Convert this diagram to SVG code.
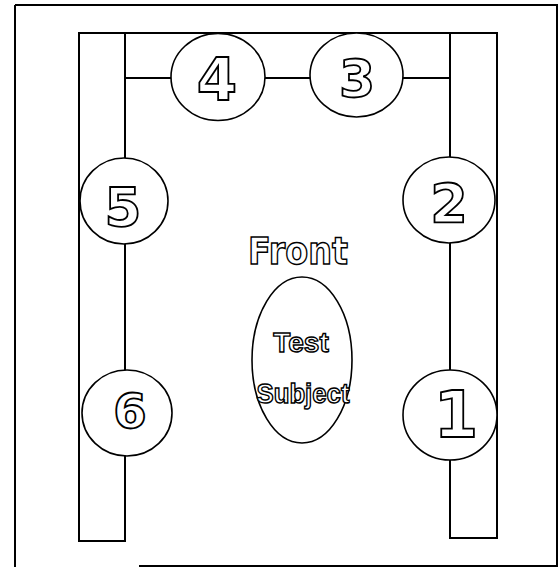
<svg xmlns="http://www.w3.org/2000/svg" width="558" height="567" viewBox="0 0 558 567">
<style>
.ln{stroke:#000;stroke-width:2;fill:none}
.nd{fill:#fff;stroke:#000;stroke-width:1.6}
.num{font-family:"DejaVu Sans",sans-serif;font-weight:bold;fill:#fff;stroke:#000;stroke-width:1.8;text-anchor:middle}
.lbl{font-family:"DejaVu Sans",sans-serif;font-weight:bold;fill:#fff;stroke:#000;stroke-width:1.5;text-anchor:middle}
.sub{font-family:"Liberation Sans",sans-serif;font-weight:bold;fill:#fff;stroke:#000;stroke-width:1.4;text-anchor:middle}
</style>
<rect width="558" height="567" fill="#fff"/>
<g id="frame">
<line class="ln" x1="15" y1="5" x2="558" y2="5"/>
<line class="ln" x1="15" y1="5" x2="15" y2="567"/>
<line class="ln" x1="557" y1="5" x2="557" y2="567"/>
<line class="ln" x1="139" y1="566" x2="558" y2="566"/>
</g>
<g id="stand">
<line class="ln" x1="79" y1="33" x2="497" y2="33"/>
<rect class="ln" x="79" y="33" width="46" height="508"/>
<rect class="ln" x="450" y="33" width="47" height="505"/>
</g>
<g id="connectors">
<line class="ln" x1="125" y1="78" x2="171" y2="78"/>
<line class="ln" x1="265" y1="78" x2="310" y2="78"/>
<line class="ln" x1="403" y1="78" x2="450" y2="78"/>
</g>
<g id="n4"><ellipse class="nd" cx="218" cy="77" rx="47" ry="43.5"/><text class="num" x="217" y="100" font-size="58">4</text></g>
<g id="n3"><ellipse class="nd" cx="356.5" cy="75" rx="46.5" ry="42"/><text class="num" x="357" y="97" font-size="52">3</text></g>
<g id="n5"><ellipse class="nd" cx="124" cy="201" rx="44" ry="43"/><text class="num" x="123" y="226" font-size="53">5</text></g>
<g id="n2"><ellipse class="nd" cx="449" cy="200" rx="46" ry="43"/><text class="num" x="449" y="222" font-size="54">2</text></g>
<g id="n6"><ellipse class="nd" cx="127" cy="413" rx="45" ry="43"/><text class="num" x="130" y="428" font-size="48">6</text></g>
<g id="n1"><ellipse class="nd" cx="450" cy="415" rx="47" ry="45"/><text class="num" x="456" y="437" font-size="64">1</text></g>
<g id="front"><text class="lbl" x="298" y="264" font-size="38" textLength="100" lengthAdjust="spacingAndGlyphs">Front</text></g>
<g id="subject">
<ellipse class="nd" cx="302" cy="360" rx="50" ry="83"/>
<text class="sub" x="301" y="352" font-size="28">Test</text>
<text class="sub" x="303" y="403" font-size="27" textLength="93" lengthAdjust="spacingAndGlyphs">Subject</text>
</g>
</svg>
